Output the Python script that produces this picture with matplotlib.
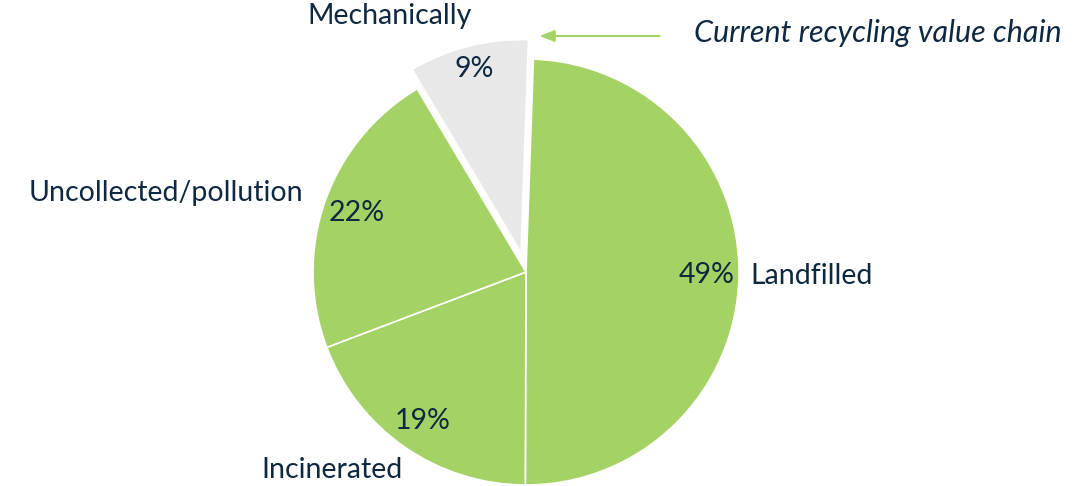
import numpy as np
import matplotlib.pyplot as plt

categories = ["Landfilled", "Incinerated", "Uncollected/pollution", "Mechanically"]
shares = [49, 19, 22, 9]
pct_labels = ["49%", "19%", "22%", "9%"]

green = "#A5D264"
grey = "#E8E8E8"
navy = "#0E2841"
colors = [green, green, green, grey]
explode = [0, 0, 0, 0.094]

plt.rcParams["font.family"] = ["Lato", "DejaVu Sans"]

fig = plt.figure(figsize=(10.92, 4.86), dpi=100)
ax = fig.add_axes([0, 0, 1, 1])

wedges, _ = ax.pie(shares, colors=colors, explode=explode, startangle=88,
                   counterclock=False, radius=1.0,
                   wedgeprops=dict(edgecolor="white", linewidth=1.2))

# percent labels inside each wedge
pct_dist = [0.85, 0.85, 0.84, 0.89]
for w, txt, d in zip(wedges, pct_labels, pct_dist):
    mid = np.deg2rad((w.theta1 + w.theta2) / 2)
    cx, cy = w.center
    ax.text(cx + d * np.cos(mid), cy + d * np.sin(mid), txt, ha="center",
            va="center", fontsize=20.5, color=navy)

# category labels outside
label_pos = {
    "Landfilled": (1.055, -0.02, "left"),
    "Incinerated": (-0.91, -0.93, "center"),
    "Uncollected/pollution": (-1.045, 0.37, "right"),
    "Mechanically": (-0.64, 1.20, "center"),
}
for name in categories:
    x, y, ha = label_pos[name]
    ax.text(x, y, name, ha=ha, va="center", fontsize=20.5, color=navy)

# arrow marking the recycling slice
ax.annotate("", xy=(0.05, 1.108), xytext=(0.64, 1.108),
            arrowprops=dict(arrowstyle="-|>,head_length=0.9,head_width=0.35",
                            color=green, lw=1.5))
ax.text(0.79, 1.12, "Current recycling value chain", ha="left", va="center",
        fontsize=22, style="italic", color=navy)

ax.set_xlim(-526 / 213, (1092 - 526) / 213)
ax.set_ylim(-(486 - 272) / 213, 272 / 213)
ax.set_aspect("auto")
ax.axis("off")

fig.savefig("out.png", dpi=100, facecolor="white")
